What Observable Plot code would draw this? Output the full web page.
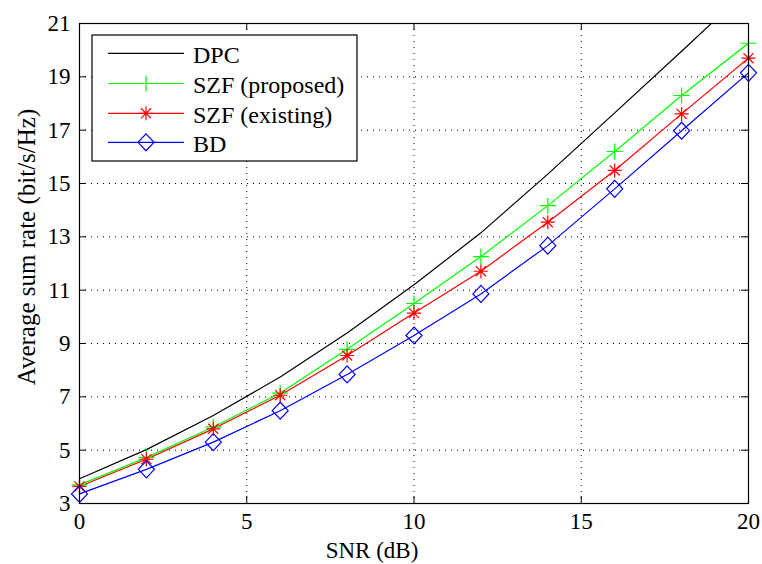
<!DOCTYPE html>
<html><head><meta charset="utf-8">
<script src="https://cdn.jsdelivr.net/npm/d3@7"></script>
<script src="https://cdn.jsdelivr.net/npm/@observablehq/plot@0.6"></script>
<style>body{margin:0;background:#fff} svg{display:block}</style>
</head><body><div id="chart"></div>
<script>
const snr = [0, 2, 4, 6, 8, 10, 12, 14, 16, 18, 20];
const dpc = [3.93, 5.02, 6.3, 7.74, 9.39, 11.2, 13.15, 15.35, 17.65, 19.96, 22.3];
const szfProposed = [3.70, 4.72, 5.87, 7.14, 8.78, 10.5, 12.26, 14.17, 16.2, 18.3, 20.26];
const szfExisting = [3.64, 4.66, 5.80, 7.06, 8.55, 10.14, 11.71, 13.55, 15.49, 17.61, 19.7];
const bd = [3.36, 4.28, 5.3, 6.48, 7.84, 9.3, 10.86, 12.67, 14.8, 16.98, 19.15];
const xTicks = [0, 5, 10, 15, 20];
const yTicks = [3, 5, 7, 9, 11, 13, 15, 17, 19, 21];
const seriesNames = ["DPC", "SZF (proposed)", "SZF (existing)", "BD"];
const seriesColors = ["#000000", "#00ff00", "#ff0000", "#0000ff"];
const seriesValues = [dpc, szfProposed, szfExisting, bd];
const xLabel = "SNR (dB)";
const yLabel = "Average sum rate (bit/s/Hz)";

const rows = seriesNames.flatMap((name, k) => snr.map((s, i) => ({snr: s, rate: seriesValues[k][i], series: name})));

function rad(s) { return Math.sqrt(s / Math.PI); }
const plusSym = {draw(c, s) { const r = rad(s); c.moveTo(-r, 0); c.lineTo(r, 0); c.moveTo(0, -r); c.lineTo(0, r); }};
const starSym = {draw(c, s) { const r = rad(s), d = r * 0.72; c.moveTo(-r, 0); c.lineTo(r, 0); c.moveTo(0, -r); c.lineTo(0, r); c.moveTo(-d, -d); c.lineTo(d, d); c.moveTo(-d, d); c.lineTo(d, -d); }};
const diamondSym = {draw(c, s) { const r = rad(s); c.moveTo(0, -r * 1.06); c.lineTo(r, 0); c.lineTo(0, r * 1.06); c.lineTo(-r, 0); c.closePath(); }};
const markerSyms = [null, plusSym, starSym, diamondSym];
const markerR = [0, 8, 7, 8];

const W = 762, H = 564, ML = 79, MR = 14, MT = 23, MB = 61;
const FW = W - ML - MR, FH = H - MT - MB, TL = 7;
const font = "'Liberation Serif', 'Times New Roman', serif";
const LW = 1.2;

const marks = [
  Plot.gridX(xTicks, {stroke: "black", strokeOpacity: 1, strokeWidth: 1, strokeDasharray: "1,5"}),
  Plot.gridY(yTicks, {stroke: "black", strokeOpacity: 1, strokeWidth: 1, strokeDasharray: "1,5"}),
];
seriesNames.forEach((name, k) => {
  const d = rows.filter(r => r.series === name);
  marks.push(Plot.line(d, {x: "snr", y: "rate", stroke: seriesColors[k], strokeWidth: LW, clip: true}));
});
seriesNames.forEach((name, k) => {
  if (!markerSyms[k]) return;
  const d = rows.filter(r => r.series === name);
  marks.push(Plot.dot(d, {x: "snr", y: "rate", symbol: markerSyms[k], r: markerR[k], stroke: seriesColors[k], fill: "none", strokeWidth: LW}));
});
marks.push(
  Plot.tickX(xTicks, {x: d => d, insetTop: FH - TL, stroke: "black"}),
  Plot.tickX(xTicks, {x: d => d, insetBottom: FH - TL, stroke: "black"}),
  Plot.tickY(yTicks, {y: d => d, insetRight: FW - TL, stroke: "black"}),
  Plot.tickY(yTicks, {y: d => d, insetLeft: FW - TL, stroke: "black"}),
  Plot.frame({stroke: "black", strokeWidth: 1.2}),
  Plot.axisX(xTicks, {tickSize: 0, tickPadding: 9, fontSize: 23, label: null, fontFamily: font}),
  Plot.axisY(yTicks, {tickSize: 0, tickPadding: 9, fontSize: 23, label: null, fontFamily: font})
);

const chart = Plot.plot({
  width: W, height: H,
  marginLeft: ML, marginRight: MR, marginTop: MT, marginBottom: MB,
  x: {domain: [0, 20]},
  y: {domain: [3, 21]},
  style: {fontFamily: font, background: "white", color: "black", overflow: "visible"},
  marks
});

const svg = d3.select(chart);
svg.append("text").attr("x", 372).attr("y", 558).attr("text-anchor", "middle")
  .attr("font-family", font).attr("font-size", 23).attr("fill", "black").text(xLabel);
svg.append("text").attr("transform", "translate(35,247) rotate(-90)").attr("text-anchor", "middle")
  .attr("font-family", font).attr("font-size", 25).attr("fill", "black").text(yLabel);

// legend
const lg = svg.append("g");
lg.append("rect").attr("x", 92).attr("y", 35).attr("width", 265).attr("height", 126)
  .attr("fill", "white").attr("stroke", "black").attr("stroke-width", 1.2);
const rowY = [53.3, 83.5, 113.3, 142.3];
seriesNames.forEach((name, k) => {
  const y = rowY[k];
  lg.append("line").attr("x1", 108).attr("x2", 184).attr("y1", y).attr("y2", y).attr("stroke", seriesColors[k]).attr("stroke-width", LW);
  if (markerSyms[k]) {
    lg.append("path").attr("transform", `translate(146,${y})`).attr("d", d3.symbol(markerSyms[k], markerR[k] * markerR[k] * Math.PI)())
      .attr("fill", "none").attr("stroke", seriesColors[k]).attr("stroke-width", LW);
  }
  lg.append("text").attr("x", 193).attr("y", y + 1).attr("dy", "0.35em").attr("text-anchor", "start")
    .attr("font-family", font).attr("font-size", 24).attr("fill", "black").text(name);
});

document.getElementById("chart").appendChild(chart);
</script>
</body></html>
